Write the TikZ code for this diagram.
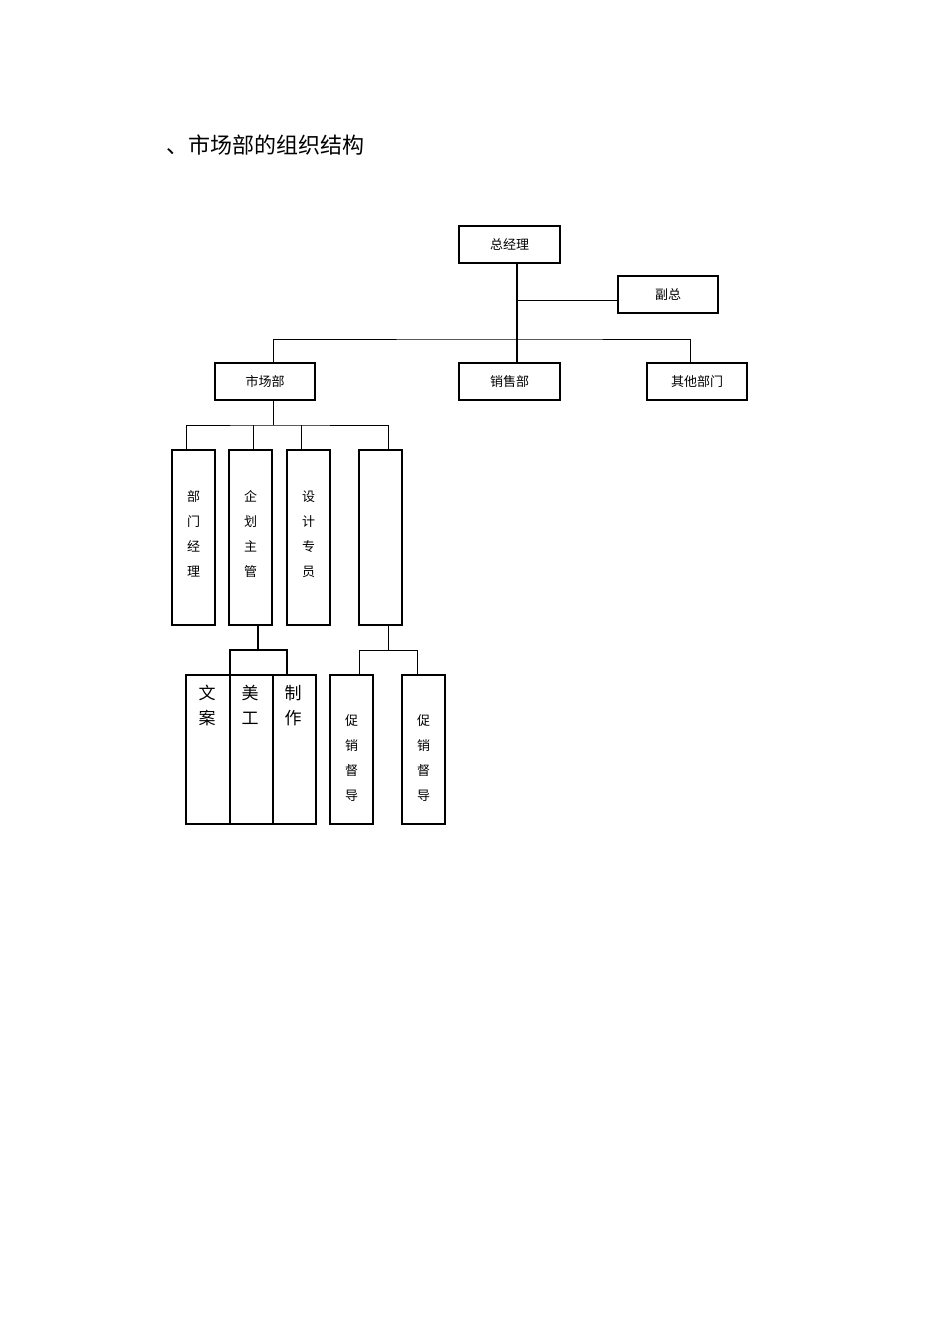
\documentclass[tikz,border=0pt]{standalone}
\usepackage{fontspec}
\newfontfamily\cjk{Noto Sans CJK SC}
\begin{document}
\begin{tikzpicture}[x=1pt,y=-1pt,line width=1pt,
  bx/.style={draw,line width=1.2pt,inner sep=0pt,font=\cjk\fontsize{13}{13}\selectfont},
  ln/.style={line width=1pt}]
\useasboundingbox (0,0) rectangle (950,1344);
\node[anchor=west,font=\cjk\fontsize{22}{22}\selectfont] (title) at (163,145) {、市场部的组织结构};
\newcommand\bxr[6]{\node[bx,minimum width=#4-#2,minimum height=#5-#3] (#1) at ({(#2+#4)/2},{(#3+#5)/2}) {}; \node[font=\cjk\fontsize{13}{13}\selectfont,align=center] (#1t) at ({(#2+#4)/2},{(#3+#5)/2}) {#6};}
\bxr{zjl}{459}{226}{560}{263}{总经理}
\bxr{fz}{618}{276}{718}{313}{副总}
\bxr{scb}{215}{363}{315}{400}{市场部}
\bxr{xsb}{459}{363}{560}{400}{销售部}
\bxr{qt}{647}{363}{747}{400}{其他部门}
\node[bx,minimum width=43,minimum height=175] (bm) at (193.5,537.5) {};
\node[bx,minimum width=43,minimum height=175] (qh) at (250.5,537.5) {};
\node[bx,minimum width=43,minimum height=175] (sj) at (308.5,537.5) {};
\node[bx,minimum width=43,minimum height=175] (ek) at (380.5,537.5) {};
\foreach \n/\x/\c in {bmt/193.5/{部\\门\\经\\理},qht/250.5/{企\\划\\主\\管},sjt/308.5/{设\\计\\专\\员}}
  \node[font=\cjk\fontsize{13}{25}\selectfont,align=center] (\n) at (\x,534) {\c};
\node[bx,minimum width=44,minimum height=149] (wa) at (208,749.5) {};
\node[bx,minimum width=43,minimum height=149] (mg) at (251.5,749.5) {};
\node[bx,minimum width=43,minimum height=149] (zz) at (294.5,749.5) {};
\node[bx,minimum width=43,minimum height=149] (cx1) at (351.5,749.5) {};
\node[bx,minimum width=43,minimum height=149] (cx2) at (423.5,749.5) {};
\foreach \n/\x/\c in {wat/207/{文\\案},mgt/250/{美\\工},zzt/293/{制\\作}}
  \node[font=\cjk\fontsize{17}{25}\selectfont,align=center,anchor=north] (\n) at (\x,681) {\c};
\foreach \n/\x in {c1t/351.5,c2t/423.5}
  \node[font=\cjk\fontsize{13}{25}\selectfont,align=center] (\n) at (\x,758) {促\\销\\督\\导};
% connectors
\draw[line width=1.5pt] (zjl.south -| 517,0) -- (517,362);
\draw[ln] (517,300) -- (fz.west |- 0,300);
\draw[ln] (scb.north -| 273,0) |- (517,339) -| (qt.north -| 690,0);
\draw[ln] (517,339) -- (xsb.north -| 517,0);
\draw[ln] (scb.south -| 273,0) -- (273,425);
\draw[ln] (bm.north -| 186,0) |- (273,425) -| (ek.north -| 388,0);
\draw[ln] (qh.north -| 253,0) -- (253,425);
\draw[ln] (sj.north -| 301,0) -- (301,425);
\draw[line width=1.5pt] (qh.south -| 258,0) -- (258,650);
\draw[line width=1.5pt] (230,675) |- (287,650) -- (287,675);
\draw[ln] (ek.south -| 388,0) -- (388,650);
\draw[ln] (cx1.north -| 359,0) |- (417,650) -- (cx2.north -| 417,0);
\end{tikzpicture}
\end{document}
